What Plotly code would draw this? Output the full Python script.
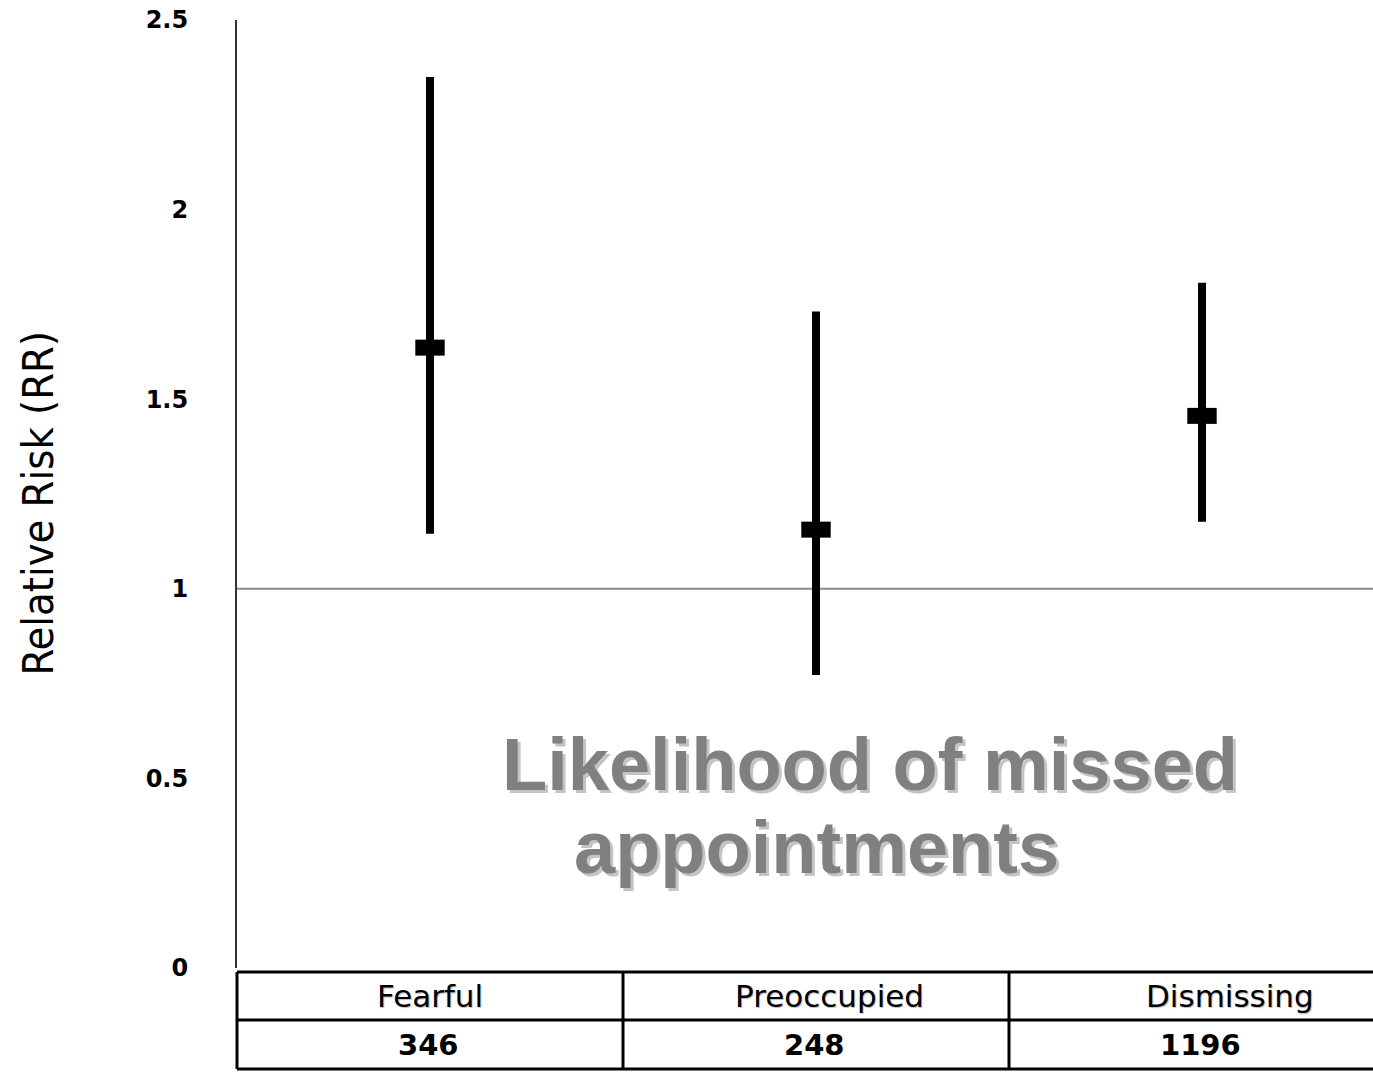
import plotly.graph_objects as go

# ---- data ----
categories = ["Fearful", "Preoccupied", "Dismissing"]
n_values = ["346", "248", "1196"]
rr_point = [1.636, 1.156, 1.456]
rr_upper = [2.35, 1.731, 1.807]
rr_lower = [1.145, 0.773, 1.177]
y_tick_vals = [0, 0.5, 1, 1.5, 2, 2.5]
y_tick_text = ["0", "0.5", "1", "1.5", "2", "2.5"]

# ---- layout constants ----
W, H = 1373, 1072
ML, MT, MB = 237, 20, 104
PLOT_H = H - MT - MB
XMAX = 2.943           # category axis extent (columns are 1 unit wide)
x_pos = [i + 0.5 for i in range(len(categories))]
name_offsets = [0.0, 0.036, 0.073]
num_offsets = [-0.005, -0.003, -0.005]

fig = go.Figure()

fig.add_trace(go.Scatter(
    x=x_pos, y=rr_point, mode="markers",
    marker=dict(symbol="line-ew", size=21, color="black",
                line=dict(width=16, color="black")),
    error_y=dict(type="data", symmetric=False,
                 array=[u - p for u, p in zip(rr_upper, rr_point)],
                 arrayminus=[p - l for p, l in zip(rr_point, rr_lower)],
                 thickness=8, width=0, color="black"),
    showlegend=False, hoverinfo="skip"))

# reference line at RR = 1
fig.add_shape(type="line", xref="paper", yref="y", x0=0, x1=1, y0=1, y1=1,
              line=dict(color="#8a8a8a", width=2), layer="below")

# ---- table below the plot ----
def py(pix_below):  # pixels below bottom of plot area -> paper y
    return -pix_below / PLOT_H

row_top, row_mid, row_bot = py(4), py(52), py(101)
for yv in (row_top, row_mid, row_bot):
    fig.add_shape(type="line", xref="paper", yref="paper", x0=0, x1=1,
                  y0=yv, y1=yv, line=dict(color="black", width=3))
for i in range(len(categories)):
    xp = i / XMAX
    fig.add_shape(type="line", xref="paper", yref="paper", x0=xp, x1=xp,
                  y0=row_top, y1=row_bot, line=dict(color="black", width=3))

for i, (c, n) in enumerate(zip(categories, n_values)):
    fig.add_annotation(x=(x_pos[i] + name_offsets[i]) / XMAX, y=py(28), xref="paper", yref="paper",
                       text=c, showarrow=False, xanchor="center", yanchor="middle",
                       font=dict(family="DejaVu Sans", size=31, color="black",
                                 shadow="1px 1px 1px #bbbbbb"))
    fig.add_annotation(x=(x_pos[i] + num_offsets[i]) / XMAX, y=py(77), xref="paper", yref="paper",
                       text=n, showarrow=False, xanchor="center", yanchor="middle",
                       font=dict(family="DejaVu Sans", size=29, color="black", weight="bold"))

# ---- overlay title ----
title_font = dict(family="Liberation Sans, Arial", size=74, color="#808080", weight="bold",
                  shadow="3px 3px 0px #c4c4c4")
fig.add_annotation(x=0.681, y=0.5366, xref="x", yref="y", text="Likelihood of missed",
                   showarrow=False, xanchor="left", yanchor="middle", font=title_font)
fig.add_annotation(x=0.868, y=0.3178, xref="x", yref="y", text="appointments",
                   showarrow=False, xanchor="left", yanchor="middle", font=title_font)

# ---- y axis title ----
fig.add_annotation(x=-199 / (W - ML), y=0.49, xref="paper", yref="paper",
                   text="Relative Risk (RR)", textangle=-90, showarrow=False,
                   xanchor="center", yanchor="middle",
                   font=dict(family="DejaVu Sans Condensed, Liberation Sans Narrow",
                             size=43, color="black"))

fig.update_layout(
    width=W, height=H, autosize=False,
    paper_bgcolor="white", plot_bgcolor="white",
    margin=dict(l=ML, r=0, t=MT, b=MB, pad=0),
    xaxis=dict(range=[0, XMAX], showgrid=False, zeroline=False, showline=False,
               showticklabels=False, ticks=""),
    yaxis=dict(range=[0, 2.5], showgrid=False, zeroline=False, showline=True,
               linecolor="#333333", linewidth=2, tickvals=y_tick_vals, ticktext=y_tick_text,
               ticks="", ticklabelstandoff=42,
               tickfont=dict(family="DejaVu Sans", size=24, color="black", weight="bold")),
)

fig.write_html("out.html",
               config={"displayModeBar": False},
               post_script="document.documentElement.style.margin='0';"
                           "document.body.style.margin='0';"
                           "document.body.style.overflow='hidden';")
